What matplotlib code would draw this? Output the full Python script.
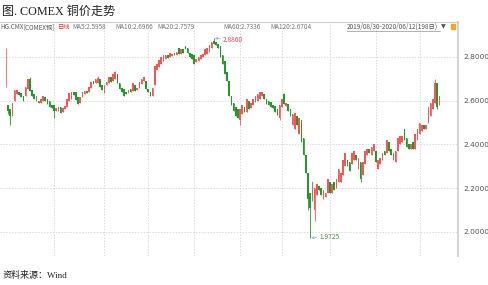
import numpy as np
import matplotlib
matplotlib.use("Agg")
import matplotlib.pyplot as plt
from matplotlib.lines import Line2D
from matplotlib.patches import Rectangle

plt.rcParams['font.family'] = ['Noto Sans CJK SC', 'DejaVu Sans']

# COMEX copper daily candles, 2019/08/30 - 2020/06/12 (198 days)
# trading days per month: Aug(30th), Sep ... Jun(1-12)
month_days = [1, 20, 23, 20, 21, 21, 19, 22, 21, 20, 10]

opens = [
    # Aug 30 + Sep
    2.58, 2.56, 2.53, 2.60, 2.63, 2.64, 2.635, 2.62, 2.62, 2.655,
    2.70, 2.65, 2.63, 2.60, 2.60, 2.59, 2.60, 2.615, 2.61, 2.60, 2.58,
    # Oct
    2.58, 2.555, 2.555, 2.57, 2.55, 2.56, 2.57, 2.60, 2.61, 2.64,
    2.64, 2.615, 2.59, 2.615, 2.63, 2.645, 2.64, 2.66, 2.69, 2.68,
    2.68, 2.70, 2.67,
    # Nov
    2.635, 2.67, 2.68, 2.71, 2.69, 2.70, 2.72, 2.68, 2.66, 2.655,
    2.64, 2.635, 2.655, 2.645, 2.67, 2.65, 2.66, 2.675, 2.69, 2.69,
    # Dec
    2.655, 2.64, 2.62, 2.67, 2.74, 2.755, 2.77, 2.78, 2.79, 2.81,
    2.80, 2.805, 2.82, 2.81, 2.84, 2.815, 2.835, 2.85, 2.84, 2.82, 2.815,
    # Jan
    2.81, 2.775, 2.78, 2.79, 2.80, 2.81, 2.815, 2.825, 2.84, 2.875,
    2.87, 2.86, 2.85, 2.81, 2.78, 2.73, 2.69, 2.62, 2.59, 2.57, 2.56,
    # Feb
    2.51, 2.54, 2.57, 2.55, 2.60, 2.565, 2.58, 2.595, 2.60, 2.61,
    2.62, 2.63, 2.61, 2.60, 2.595, 2.58, 2.575, 2.56, 2.52,
    # Mar
    2.57, 2.63, 2.575, 2.585, 2.56, 2.49, 2.47, 2.53, 2.45, 2.51,
    2.43, 2.35, 2.27, 2.18, 2.14, 2.10, 2.17, 2.21, 2.20, 2.15, 2.16, 2.18,
    # Apr
    2.23, 2.18, 2.23, 2.20, 2.23, 2.23, 2.26, 2.30, 2.33, 2.32,
    2.31, 2.33, 2.35, 2.29, 2.32, 2.26, 2.31, 2.35, 2.38, 2.35, 2.37,
    # May
    2.37, 2.29, 2.31, 2.33, 2.37, 2.36, 2.41, 2.38, 2.33, 2.32,
    2.37, 2.40, 2.41, 2.47, 2.43, 2.40, 2.38, 2.41, 2.38, 2.42,
    # Jun
    2.45, 2.46, 2.49, 2.47, 2.50, 2.53, 2.56, 2.59, 2.68, 2.58,
]

closes = [
    # Aug 30 + Sep
    2.555, 2.53, 2.59, 2.65, 2.65, 2.625, 2.615, 2.60, 2.665, 2.70,
    2.645, 2.62, 2.61, 2.62, 2.59, 2.61, 2.62, 2.60, 2.585, 2.57, 2.565,
    # Oct
    2.555, 2.565, 2.57, 2.545, 2.565, 2.575, 2.61, 2.635, 2.64, 2.625,
    2.605, 2.585, 2.615, 2.64, 2.645, 2.635, 2.665, 2.685, 2.675, 2.70,
    2.705, 2.665, 2.65,
    # Nov
    2.67, 2.685, 2.71, 2.685, 2.72, 2.73, 2.68, 2.655, 2.64, 2.62,
    2.63, 2.65, 2.64, 2.68, 2.645, 2.66, 2.685, 2.70, 2.71, 2.655,
    # Dec
    2.64, 2.62, 2.66, 2.76, 2.77, 2.785, 2.80, 2.81, 2.81, 2.795,
    2.82, 2.815, 2.81, 2.825, 2.815, 2.835, 2.82, 2.835, 2.82, 2.80, 2.79,
    # Jan
    2.77, 2.79, 2.80, 2.81, 2.815, 2.835, 2.84, 2.855, 2.87, 2.86,
    2.855, 2.84, 2.80, 2.77, 2.72, 2.69, 2.62, 2.58, 2.555, 2.53, 2.52,
    # Feb
    2.56, 2.58, 2.55, 2.61, 2.56, 2.59, 2.61, 2.62, 2.63, 2.64,
    2.64, 2.61, 2.585, 2.58, 2.57, 2.565, 2.55, 2.535, 2.58,
    # Mar
    2.61, 2.585, 2.59, 2.555, 2.53, 2.54, 2.545, 2.49, 2.52, 2.41,
    2.35, 2.27, 2.15, 2.11, 2.23, 2.20, 2.22, 2.19, 2.17, 2.19, 2.18, 2.24,
    # Apr
    2.18, 2.22, 2.19, 2.24, 2.29, 2.27, 2.33, 2.36, 2.30, 2.28,
    2.36, 2.37, 2.33, 2.34, 2.24, 2.32, 2.37, 2.38, 2.36, 2.39, 2.40,
    # May
    2.32, 2.33, 2.34, 2.36, 2.35, 2.42, 2.37, 2.35, 2.36, 2.37,
    2.43, 2.44, 2.44, 2.42, 2.39, 2.38, 2.40, 2.38, 2.45, 2.47,
    # Jun
    2.50, 2.49, 2.47, 2.49, 2.57, 2.59, 2.61, 2.68, 2.57, 2.62,
]

# visible wicks beyond the bodies (index: value)
wick_highs = {10: 2.71, 41: 2.715, 49: 2.735, 94: 2.886, 126: 2.635, 195: 2.70}
wick_lows = {0: 2.54, 1: 2.49, 21: 2.52, 106: 2.49, 124: 2.51, 137: 2.10,
             138: 1.9725, 140: 2.05, 161: 2.23, 196: 2.56}

# thin red line left of the first candle
edge_mark = (2.665, 2.84)

yticks = [2.0, 2.2, 2.4, 2.6, 2.8]

header_code = "HG.CMX"
header_name = "[COMEX铜]"
header_ma = ["MA5:2.5958", "MA10:2.6966", "MA20:2.7579", "MA60:2.7336", "MA120:2.6704"]
date_range = "2019/08/30-2020/06/12(198日)"

o = np.array(opens)
c = np.array(closes)
x = np.arange(len(c))
highs = np.maximum(o, c)
lows = np.minimum(o, c)
for k, v in wick_highs.items():
    highs[k] = v
for k, v in wick_lows.items():
    lows[k] = v

RED = '#f25858'
GREEN = '#22992c'
cols = [RED if cc >= oo else GREEN for oo, cc in zip(o, c)]

W, H = 489, 285
fig = plt.figure(figsize=(W / 100, H / 100), dpi=100)


def fx(px):
    return px / W


def fy(py):
    return 1 - py / H


ax = fig.add_axes([0, fy(256), fx(458), (256 - 22) / H])
ax.set_xlim(-3.65, 205.5)
ax.set_ylim(1.89, 2.96)

# grid
for yv in yticks:
    ax.axhline(yv, color='#dadada', lw=0.7, ls=(0, (1.5, 1.5)), zorder=0)
month_starts = np.cumsum(month_days)[1:-1]
for m in month_starts:
    ax.axvline(m, color='#dadada', lw=0.7, ls=(0, (1.5, 1.5)), zorder=0)

# candles
ax.vlines(x, lows, highs, colors=cols, lw=0.6, zorder=2)
ax.bar(x, np.abs(c - o), bottom=np.minimum(o, c), width=0.75, color=cols,
       lw=0, zorder=3)
ax.vlines(-0.7, edge_mark[0], edge_mark[1], colors='#f08080', lw=0.8)

# max / min markers
pi = int(np.argmax(highs))
li = int(np.argmin(lows))
ax.annotate(f'{highs[pi]:.4f}', xy=(pi + 0.4, highs[pi]), xytext=(6, -1.5),
            textcoords='offset points', fontsize=4.8, color='#e8474a',
            va='center', ha='left',
            arrowprops=dict(arrowstyle='->', color='#8fbfe0', lw=0.6,
                            mutation_scale=4, shrinkA=0, shrinkB=0))
ax.annotate(f'{lows[li]:.4f}', xy=(li + 0.4, lows[li]), xytext=(6, 1),
            textcoords='offset points', fontsize=4.8, color='#3a9a3a',
            va='center', ha='left',
            arrowprops=dict(arrowstyle='->', color='#8fbfe0', lw=0.6,
                            mutation_scale=4, shrinkA=0, shrinkB=0))

# axes styling
for s in ['left', 'bottom']:
    ax.spines[s].set_visible(False)
ax.spines['top'].set_color('#cccccc')
ax.spines['top'].set_linewidth(0.8)
ax.spines['right'].set_color('#d5d5d5')
ax.spines['right'].set_linewidth(1.5)
ax.set_xticks([])
ax.yaxis.tick_right()
ax.set_yticks(yticks)
ax.set_yticklabels([f'{v:.4f}' for v in yticks], family='DejaVu Sans')
ax.tick_params(axis='y', length=0, pad=4, labelsize=5.3, labelcolor='#555555')

# header row inside the chart
hy = fy(27)
fig.text(fx(0.5), hy, header_code, fontsize=4.5, color='#555555', va='center')
fig.text(fx(23.5), hy, header_name, fontsize=4.5, color='#555555', va='center')
fig.text(fx(57.5), hy, "日线", fontsize=4.5, color='#e03030', va='center')
for label, px in zip(header_ma, [72, 115, 157, 223, 270]):
    fig.text(fx(px), hy, label, fontsize=4.6, color='#777777', va='center')
fig.text(fx(347), hy, date_range, fontsize=4.6, color='#555555', va='center')
fig.add_artist(Line2D([fx(347), fx(440)], [fy(30.5), fy(30.5)],
                      color='#777777', lw=0.4))
fig.text(fx(441), hy, "▼", fontsize=4.5, color='#555555', va='center',
         family='DejaVu Sans')
fig.add_artist(Rectangle((fx(451), fy(29)), fx(4), 5 / H, color='#f5a623'))

# title and source
fig.text(fx(2), fy(12), "图. COMEX 铜价走势", fontsize=8.7, color='#222222',
         va='center', family=['Liberation Serif', 'Noto Sans CJK SC'])
fig.text(fx(3), fy(275), "资料来源：Wind", fontsize=6.5, color='#222222',
         va='center', family=['Liberation Serif', 'Noto Sans CJK SC'])

fig.savefig("out.png", dpi=100)
plt.close(fig)
